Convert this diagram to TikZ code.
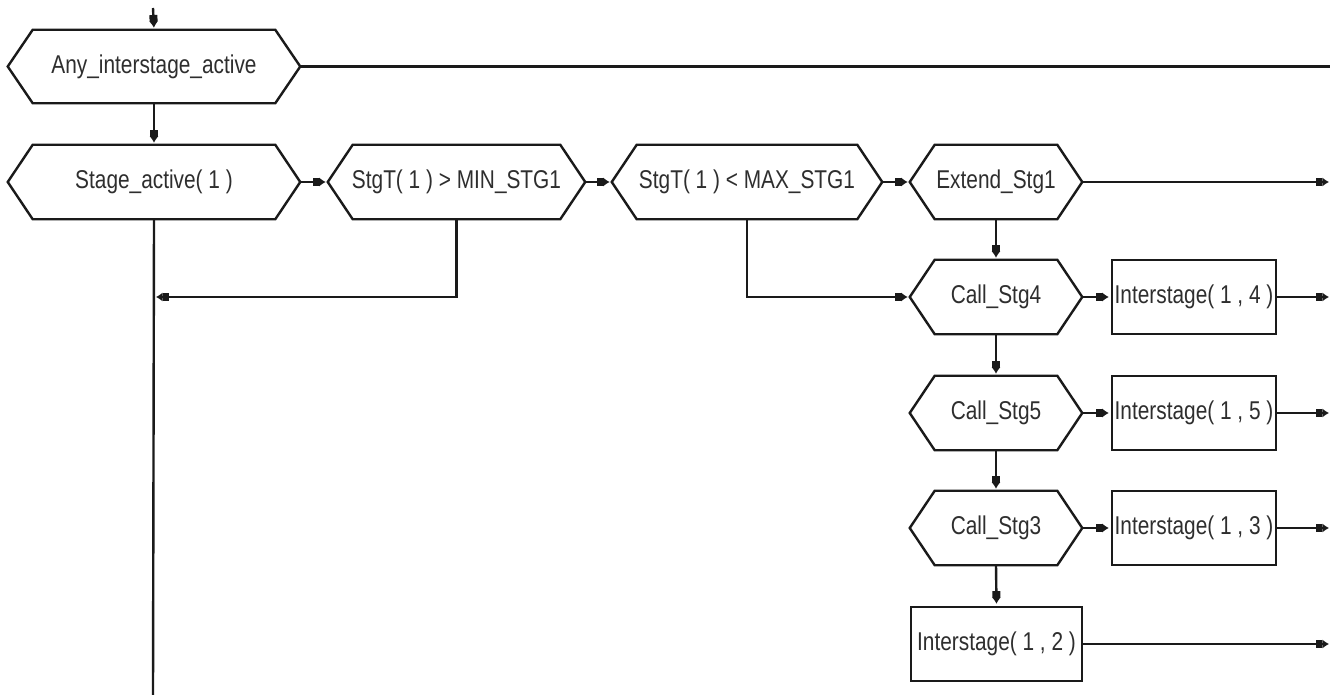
\documentclass[tikz,border=0pt]{standalone}
\usepackage{fontspec}
\setmainfont{Liberation Sans}[FakeStretch=0.81]
\usetikzlibrary{arrows.meta}
\definecolor{ink}{HTML}{1A1A1A}
\definecolor{txt}{HTML}{2E2E2E}
\begin{document}
\begin{tikzpicture}[x=0.75pt, y=-0.75pt,
  flow/.style={draw=ink, line width=1.8pt, shorten >=1.5pt,
    -{Rectangle[length=4.5pt, width=6pt, sep=0pt]Latex[length=5pt, width=7pt, sep=0pt]}},
  plain/.style={draw=ink, line width=1.8pt},
  box/.style={rectangle, inner sep=0pt, minimum height=55.5pt, text=txt,
    font=\fontsize{19.3pt}{21pt}\selectfont},
  hexbox/.style={box},
  rectbox/.style={box, draw=ink, line width=1.8pt}]
\newcommand\hexoutline[1]{%
  \draw[plain, line join=miter] (#1.west) -- ([xshift=18.75pt]#1.north west)
    -- ([xshift=-18.75pt]#1.north east) -- (#1.east)
    -- ([xshift=-18.75pt]#1.south east) -- ([xshift=18.75pt]#1.south west) -- cycle;}

\useasboundingbox (0,0) rectangle (1330,695);
\fill[white] (0,0) rectangle (1330,695);

% decision hexagons
\node[hexbox, minimum width=219pt, minimum height=54.75pt] (any) at (154,66.5) {Any\_interstage\_active};
\node[hexbox, minimum width=219pt] (sa) at (154,182) {Stage\_active( 1 )};
\node[hexbox, minimum width=192.75pt] (gt) at (456.5,182) {StgT( 1 ) > MIN\_STG1};
\node[hexbox, minimum width=202.5pt] (lt) at (747,182) {StgT( 1 ) < MAX\_STG1};
\node[hexbox, minimum width=129pt] (ext) at (996,182) {Extend\_Stg1};
\node[hexbox, minimum width=129pt] (c4) at (996,297) {Call\_Stg4};
\node[hexbox, minimum width=129pt] (c5) at (996,413) {Call\_Stg5};
\node[hexbox, minimum width=129pt] (c3) at (996,528) {Call\_Stg3};
\foreach \n in {any,sa,gt,lt,ext,c4,c5,c3} {\hexoutline{\n}}

% action boxes
\node[rectbox, minimum width=123pt] (i4) at (1194,297) {Interstage( 1 , 4 )};
\node[rectbox, minimum width=123pt] (i5) at (1194,413) {Interstage( 1 , 5 )};
\node[rectbox, minimum width=123pt] (i3) at (1194,528) {Interstage( 1 , 3 )};
\node[rectbox, minimum width=128.25pt] (i2) at (996.5,644) {Interstage( 1 , 2 )};

% free ends
\coordinate (top) at (153,8);
\coordinate (e0) at (1330,66.5);
\coordinate (e1) at (1331,182);
\coordinate (e4) at (1331,297);
\coordinate (e5) at (1331,413);
\coordinate (e3) at (1331,528);
\coordinate (e2) at (1331,644);
\coordinate (bot) at (153,695);

% connectors
\draw[flow] (top) -- (any.north);
\draw[plain] (any.east) -- (e0);
\draw[flow] (any.south) -- (sa.north);
\draw[flow] (sa.east) -- (gt.west);
\draw[flow] (gt.east) -- (lt.west);
\draw[flow] (lt.east) -- (ext.west);
\draw[flow] (ext.east) -- (e1);
\draw[plain] (sa.south) -- (bot);
\draw[flow] (gt.south) |- (sa.south |- c4.west);
\draw[flow] (lt.south) |- (c4.west);
\draw[flow] (ext.south) -- (c4.north);
\draw[flow] (c4.east) -- (i4.west);
\draw[flow] (i4.east) -- (e4);
\draw[flow] (c4.south) -- (c5.north);
\draw[flow] (c5.east) -- (i5.west);
\draw[flow] (i5.east) -- (e5);
\draw[flow] (c5.south) -- (c3.north);
\draw[flow] (c3.east) -- (i3.west);
\draw[flow] (i3.east) -- (e3);
\draw[flow] (c3.south) -- (i2.north);
\draw[flow] (i2.east) -- (e2);
\end{tikzpicture}
\end{document}
